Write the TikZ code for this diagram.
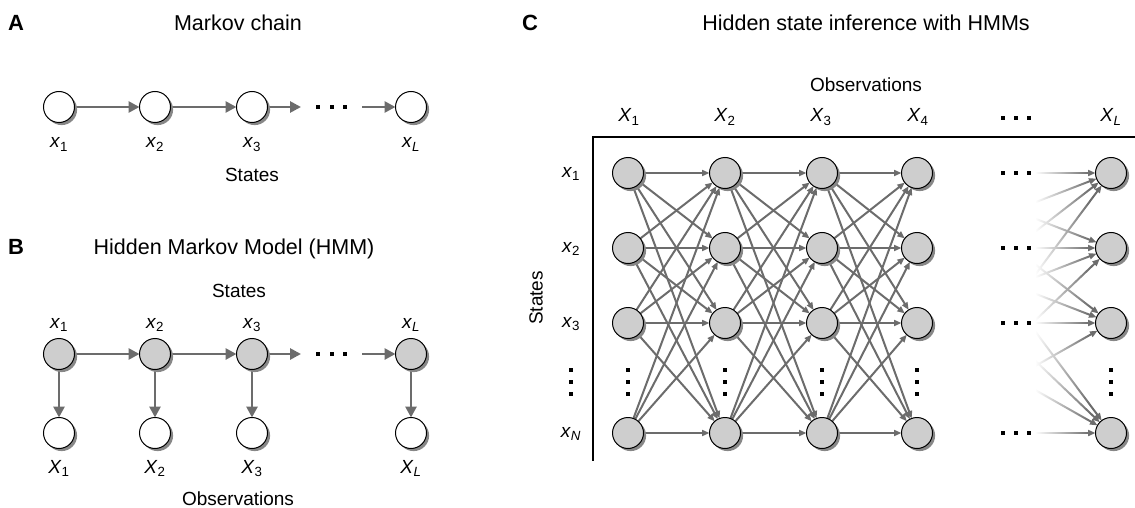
\documentclass[tikz,border=0pt]{standalone}
\usepackage{fontspec}
\setmainfont{Liberation Sans}
\usetikzlibrary{arrows.meta,fadings}
\definecolor{edgegray}{RGB}{108,108,108}
\definecolor{nodegray}{RGB}{206,206,206}
\definecolor{shadowgray}{RGB}{135,135,135}
\pgfdeclarelayer{bg}
\pgfsetlayers{bg,main}
\newcommand\vlab[2]{\textit{#1}\textsubscript{#2}}
\newcommand\dotsq[2]{\fill[black] (#1-1.7,#2-1.7) rectangle (#1+1.7,#2+1.7);}
\tikzfading[name=fadeout, left color=transparent!0, right color=transparent!100]
\begin{document}
\begin{tikzpicture}[x=1pt,y=-1pt,
  base/.style={circle, draw=black, line width=1pt, minimum size=31pt, inner sep=0pt, outer sep=0pt,
     preaction={fill=shadowgray, transform canvas={shift={(2.6pt,-2.6pt)}}}},
  hid/.style={base, fill=nodegray},
  obs/.style={base, fill=white},
  ttl/.style={anchor=base, inner sep=0pt, font=\fontsize{21.5}{24}\selectfont},
  pnl/.style={anchor=base, inner sep=0pt, font=\fontsize{22}{26}\selectfont\bfseries},
  lbl/.style={anchor=base, inner sep=0pt, font=\fontsize{19}{22}\selectfont},
  bigarr/.style={draw=edgegray, line width=2.8pt, -{Triangle[length=11pt,width=11pt]}},
  smallarr/.style={draw=edgegray, line width=2pt, -{Triangle[length=7.5pt,width=6pt]}},
]
\useasboundingbox (0,0) rectangle (1135,508);

% ---------------- Panel A ----------------
\node[pnl] (pA) at (16,31) {A};
\node[ttl] (tA) at (238,30.5) {Markov chain};
\node[obs] (a1) at (59,107) {};
\node[obs] (a2) at (155,107) {};
\node[obs] (a3) at (252,107) {};
\node[obs] (aL) at (411,107) {};
\coordinate (a3e) at (301,107);
\coordinate (aLs) at (362,107);
\begin{pgfonlayer}{bg}
\draw[bigarr] (a1) -- (a2);
\draw[bigarr] (a2) -- (a3);
\draw[bigarr] (a3) -- (a3e);
\draw[bigarr] (aLs) -- (aL);
\end{pgfonlayer}
\dotsq{318}{107}\dotsq{332}{107}\dotsq{345}{107}
\node[lbl] (la1) at (59,148) {\vlab{x}{1}};
\node[lbl] (la2) at (155,148) {\vlab{x}{2}};
\node[lbl] (la3) at (252,148) {\vlab{x}{3}};
\node[lbl] (laL) at (411,148) {\vlab{x}{\textit{L}}};
\node[lbl] (sA) at (252,182) {States};

% ---------------- Panel B ----------------
\node[pnl] (pB) at (16,254) {B};
\node[ttl] (tB) at (234,254) {Hidden Markov Model (HMM)};
\node[lbl] (sB) at (239,297) {States};
\node[lbl] (lb1) at (59,328) {\vlab{x}{1}};
\node[lbl] (lb2) at (155,328) {\vlab{x}{2}};
\node[lbl] (lb3) at (252,328) {\vlab{x}{3}};
\node[lbl] (lbL) at (411,328) {\vlab{x}{\textit{L}}};
\node[hid] (b1) at (59,354) {};
\node[hid] (b2) at (155,354) {};
\node[hid] (b3) at (252,354) {};
\node[hid] (bL) at (411,354) {};
\node[obs] (o1) at (59,433) {};
\node[obs] (o2) at (155,433) {};
\node[obs] (o3) at (252,433) {};
\node[obs] (oL) at (411,433) {};
\coordinate (b3e) at (301,354);
\coordinate (bLs) at (362,354);
\begin{pgfonlayer}{bg}
\draw[bigarr] (b1) -- (b2);
\draw[bigarr] (b2) -- (b3);
\draw[bigarr] (b3) -- (b3e);
\draw[bigarr] (bLs) -- (bL);
\draw[bigarr] (b1) -- (o1);
\draw[bigarr] (b2) -- (o2);
\draw[bigarr] (b3) -- (o3);
\draw[bigarr] (bL) -- (oL);
\end{pgfonlayer}
\dotsq{318}{354}\dotsq{332}{354}\dotsq{345}{354}
\node[lbl] (lo1) at (59,473) {\vlab{X}{1}};
\node[lbl] (lo2) at (155,473) {\vlab{X}{2}};
\node[lbl] (lo3) at (252,473) {\vlab{X}{3}};
\node[lbl] (loL) at (411,473) {\vlab{X}{\textit{L}}};
\node[lbl] (obB) at (238,505) {Observations};

% ---------------- Panel C ----------------
\node[pnl] (pC) at (530,31) {C};
\node[ttl] (tC) at (866,30.5) {Hidden state inference with HMMs};
\node[lbl] (obC) at (866,92) {Observations};
\node[lbl] (X1) at (629,122) {\vlab{X}{1}};
\node[lbl] (X2) at (725,122) {\vlab{X}{2}};
\node[lbl] (X3) at (821,122) {\vlab{X}{3}};
\node[lbl] (X4) at (918,122) {\vlab{X}{4}};
\node[lbl] (XL) at (1111,122) {\vlab{X}{\textit{L}}};
\dotsq{1003}{118}\dotsq{1016}{118}\dotsq{1029}{118}
\coordinate (ax0) at (593,137);
\coordinate (axR) at (1135,137);
\coordinate (axB) at (593,460);
\draw[line width=2pt, line cap=rect] (axR) -- (ax0) -- (axB);
\node[lbl, rotate=90, anchor=center] (sC) at (536,298) {States};
\node[lbl] (r1) at (571,177) {\vlab{x}{1}};
\node[lbl] (r2) at (571,252) {\vlab{x}{2}};
\node[lbl] (r3) at (571,327) {\vlab{x}{3}};
\node[lbl] (rN) at (571,437) {\vlab{x}{\textit{N}}};
\dotsq{571}{370}\dotsq{571}{382}\dotsq{571}{394}

\foreach \i/\cx in {1/628,2/725,3/822,4/917,5/1111}{
  \foreach \j/\ry in {1/173,2/248,3/323,4/433}{
    \node[hid] (c\i\j) at (\cx,\ry) {};
  }
  \dotsq{\cx}{370}\dotsq{\cx}{382}\dotsq{\cx}{394}
}
\begin{pgfonlayer}{bg}
\foreach \i/\k in {1/2,2/3,3/4,4/5}{
  \foreach \j in {1,2,3,4}{
    \foreach \m in {1,2,3,4}{
      \draw[smallarr] (c\i\j) -- (c\k\m);
    }
  }
}
\fill[white] (922,150) rectangle (1036,458);
\fill[white, path fading=fadeout] (1035,150) rectangle (1090,458);
\end{pgfonlayer}
\foreach \ry in {173,248,323,433}{
  \dotsq{1003}{\ry}\dotsq{1016}{\ry}\dotsq{1029}{\ry}
}
\end{tikzpicture}
\end{document}
